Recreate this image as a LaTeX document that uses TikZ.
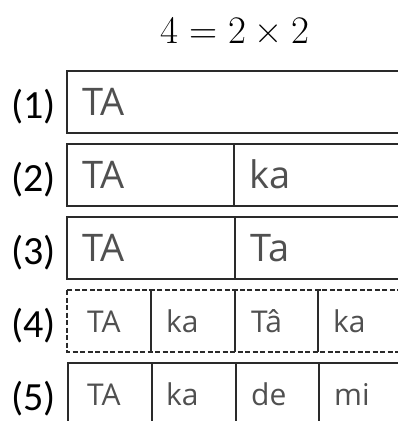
\documentclass[tikz,border=0pt]{standalone}
\usepackage{fontspec}
\newfontfamily\cellfont{Open Sans}
\newfontfamily\labelfont{Carlito}
\definecolor{textgray}{HTML}{505050}
\definecolor{linegray}{HTML}{2A2A2A}
\begin{document}
\begin{tikzpicture}[x=1pt,y=-1pt,
  frame/.style={draw=linegray, line width=1.6pt},
  dashframe/.style={draw=linegray, line width=1.5pt, dash pattern=on 5pt off 2.5pt},
  big/.style={anchor=base west, text=textgray, font=\cellfont\fontsize{38}{40}\selectfont, inner sep=0pt},
  small/.style={anchor=base west, text=textgray, font=\cellfont\fontsize{30}{32}\selectfont, inner sep=0pt},
  lab/.style={anchor=base west, font=\labelfont\fontsize{40}{42}\selectfont, inner sep=0pt}]
\useasboundingbox (0,0) rectangle (398,421);
\clip (0,0) rectangle (398,421);

% title
\node[anchor=base, inner sep=0pt, font=\fontsize{39}{41}\selectfont] (title) at (235,43) {4\hspace{0.28em}=\hspace{0.28em}2\hspace{0.22em}×\hspace{0.22em}2};

% row labels
\node[lab] (l1) at (11,118) {(1)};
\node[lab] (l2) at (11,191) {(2)};
\node[lab] (l3) at (11,264) {(3)};
\node[lab] (l4) at (11,337) {(4)};
\node[lab] (l5) at (11,410) {(5)};

% row 1
\draw[frame] (67,71) rectangle (420,133);
\node[big] (t11) at (82,115) {TA};

% row 2
\draw[frame] (67,144) rectangle (420,206);
\draw[frame] (234,144) -- (234,206);
\node[big] (t21) at (82,188) {TA};
\node[big] (t22) at (249,188) {ka};

% row 3
\draw[frame] (67,217) rectangle (420,279);
\draw[frame] (235,217) -- (235,279);
\node[big] (t31) at (82,261) {TA};
\node[big] (t32) at (250,261) {Ta};

% row 4 (dashed frame, solid dividers)
\draw[dashframe] (67,290) rectangle (420,352);
\foreach \x in {151,235,318} {
  \draw[frame] (\x,290) -- (\x,352);
  \draw[linegray, line width=1.3pt] (\x-2.5,290) -- (\x+2.5,290);
}
\node[small] (t41) at (87,332) {TA};
\node[small] (t42) at (166,332) {ka};
\node[small] (t43) at (251,332) {Tâ};
\node[small] (t44) at (333,332) {ka};

% row 5
\draw[frame] (68,363) rectangle (420,430);
\foreach \x in {152,236,319} {
  \draw[frame] (\x,363) -- (\x,430);
}
\node[small] (t51) at (87,405) {TA};
\node[small] (t52) at (166,405) {ka};
\node[small] (t53) at (251,405) {de};
\node[small] (t54) at (334,405) {mi};
\end{tikzpicture}
\end{document}
